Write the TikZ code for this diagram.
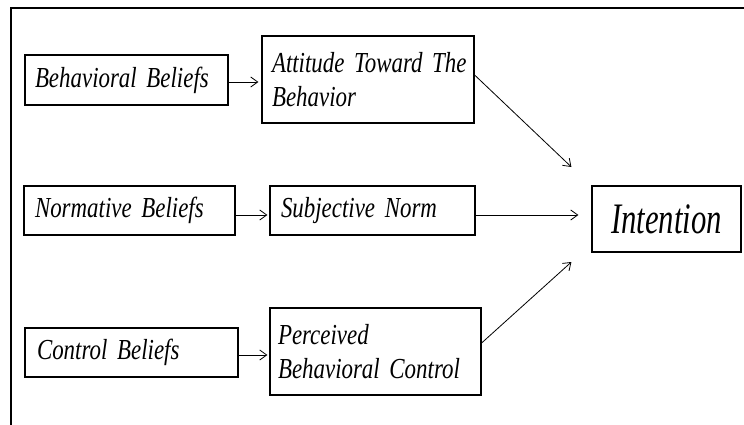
\documentclass[tikz,border=0pt]{standalone}
\usepackage{fontspec}
\usetikzlibrary{arrows.meta}
\newfontfamily\boxfont[FakeStretch=0.79]{Liberation Serif}
\newfontfamily\bigfont[FakeStretch=0.705]{Liberation Serif}
\DeclareRobustCommand\myboxfont{\boxfont\itshape\fontsize{29}{34}\selectfont\setlength{\spaceskip}{5.8pt}}
\begin{document}
\begin{tikzpicture}[x=1pt,y=-1pt,
  box/.style={draw=black,line width=1.2pt,inner sep=0pt,align=left,font=\myboxfont},
  arr/.style={line width=0.8pt,-{Straight Barb[length=7pt,width=10pt,line width=0.8pt]}},
  frame/.style={line width=2pt}]
\useasboundingbox (0,0) rectangle (744,425);
\draw[frame] (10,8) coordinate (tl) -- (744,8) coordinate (tr);
\draw[line width=1.3pt] (11,8) coordinate (lt) -- (11,425) coordinate (lb);
% boxes
\node[box,minimum width=203pt,minimum height=50pt,text width=183pt] (bb) at (126.5,80) {\mbox{Behavioral Beliefs}};
\node[box,minimum width=212pt,minimum height=87pt,text width=192pt] (att) at (368,79.5) {\mbox{Attitude Toward The}\\\mbox{Behavior}};
\node[box,minimum width=211pt,minimum height=49pt,text width=189pt] (nb) at (129.5,210.5) {\mbox{Normative Beliefs}};
\node[box,minimum width=205pt,minimum height=49pt,text width=183pt] (sn) at (372.5,210.5) {\mbox{Subjective Norm}};
\node[box,minimum width=213pt,minimum height=49pt,text width=189pt] (cb) at (131.5,352.5) {\mbox{Control Beliefs}};
\node[box,minimum width=211pt,minimum height=87pt,text width=195pt] (pbc) at (375.5,351.5) {\mbox{Perceived}\\\mbox{Behavioral Control}};
\node[box,minimum width=149pt,minimum height=66pt,align=center,
  font=\bigfont\itshape\fontsize{43.5}{50}\selectfont] (int) at (666.5,219) {Intention};
% connectors
\draw[arr] ([yshift=-2pt]bb.east) -- ([xshift=-3pt,yshift=-2pt]att.west |- bb.east);
\draw[arr] ([yshift=-4.5pt]nb.east) -- ([xshift=-2pt,yshift=-4.5pt]sn.west);
\draw[arr] ([yshift=-2.5pt]cb.east) -- ([xshift=-2pt,yshift=-2.5pt]pbc.west |- cb.east);
\draw[arr] ([yshift=4.5pt]att.east) -- ([xshift=-20pt,yshift=52pt]int.west);
\draw[arr] ([yshift=-4.5pt]sn.east) -- ([xshift=-13pt,yshift=4pt]int.west);
\draw[arr] ([yshift=8.5pt]pbc.east) -- ([xshift=-20pt,yshift=-43pt]int.west);
\end{tikzpicture}
\end{document}
